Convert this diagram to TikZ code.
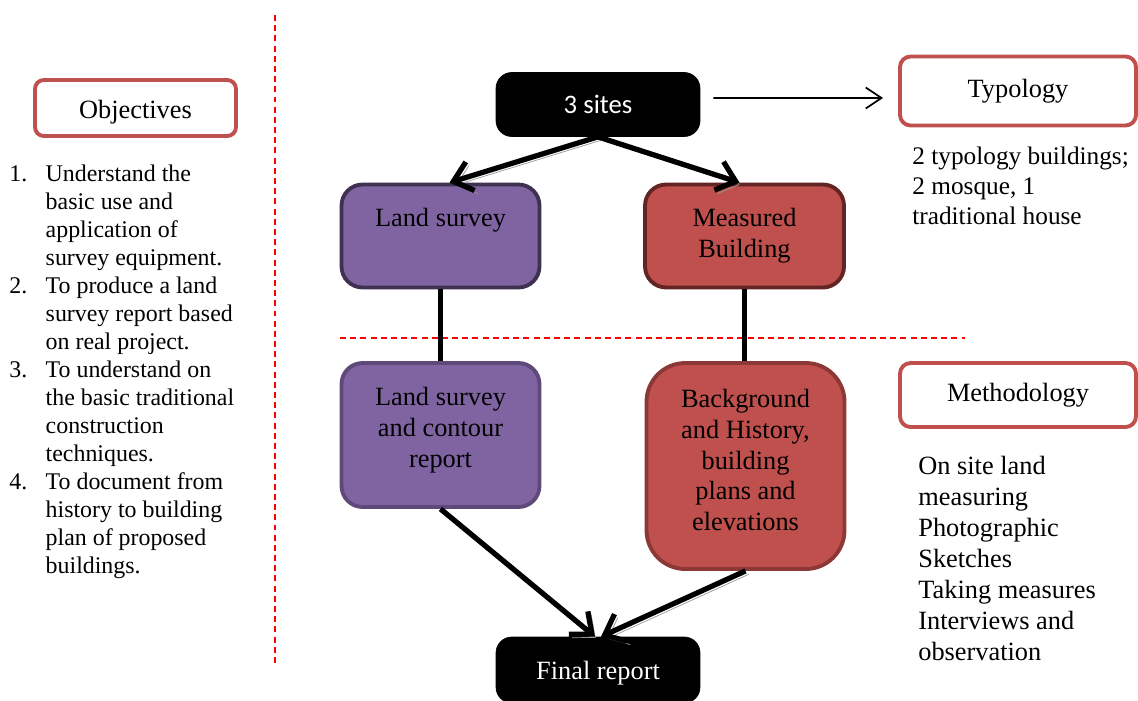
\documentclass[tikz,border=0pt]{standalone}
\usepackage{fontspec}
\setmainfont{Liberation Serif}
\newfontfamily\calibrifont{Carlito}
\usetikzlibrary{positioning,arrows.meta}
\definecolor{accred}{HTML}{C0504D}
\definecolor{accpurple}{HTML}{8064A2}
\definecolor{purpledark}{HTML}{3F3151}
\definecolor{purplemid}{HTML}{5F497A}
\definecolor{reddark}{HTML}{632523}
\definecolor{redmid}{HTML}{8C3836}

\begin{document}
\begin{tikzpicture}[
  x=0.02cm, y=-0.02cm,
  font=\fontsize{15}{17.6}\selectfont,
  box/.style={draw, line width=2.2pt, rounded corners=6pt, align=center, inner sep=2pt},
  head/.style={box, draw=accred, fill=white, minimum width=4.72cm, minimum height=1.38cm},
  blackbox/.style={box, draw=black, fill=black, text=white, line width=0.4pt,
                   minimum width=4.08cm, minimum height=1.28cm, rounded corners=9pt},
  survey/.style={box, fill=accpurple, minimum width=3.96cm, rounded corners=12pt},
  measure/.style={box, fill=accred, minimum width=3.98cm, rounded corners=12pt},
  plain/.style={inner sep=0pt, align=left, anchor=north west},
  arr/.style={line width=3pt, -{Straight Barb[length=10pt,width=17pt]},
              preaction={draw=black!40, transform canvas={xshift=1.9pt,yshift=-1.9pt}}},
  link/.style={line width=3.2pt},
  thinarr/.style={line width=1pt, -{Straight Barb[length=9pt,width=12pt]}},
  sep/.style={draw=red, line width=0.9pt, dash pattern=on 3.4pt off 2.4pt},
]
\useasboundingbox (0,0) rectangle (1138,700);
% Left column: objectives
\node[head, minimum width=4.02cm, minimum height=1.12cm, rounded corners=5pt,
      text height=15.5pt, text depth=3.3pt] (obj) at (135.5,108) {Objectives};
\node[plain, font=\fontsize{13.6}{15.9}\selectfont] (objlist) at (9,162) {%
  \begin{tabular}{@{}l@{\hspace{10.5pt}}l@{}}
  1. & Understand the\\
     & basic use and\\
     & application of\\
     & survey equipment.\\
  2. & To produce a land\\
     & survey report based\\
     & on real project.\\
  3. & To understand on\\
     & the basic traditional\\
     & construction\\
     & techniques.\\
  4. & To document from\\
     & history to building\\
     & plan of proposed\\
     & buildings.
  \end{tabular}};
\draw[sep] (275,15) -- (275,665);
% Top
\node[blackbox, font=\calibrifont\fontsize{15.2}{18}\selectfont] (sites) at (598,104.5) {3 sites};
\node[head] (typo) at (1018,91) {Typology};
\node[plain, font=\fontsize{14.4}{17}\selectfont] (typolist) at (912,147)
  {2 typology buildings;\\2 mosque, 1\\traditional house};
% Level 1
\node[survey, draw=purpledark, minimum height=2.06cm, text height=0.7em, text depth=17.5pt] (land) at (440.5,236) {Land survey};
\node[measure, draw=reddark, minimum height=2.06cm] (meas) at (744.5,236) {Measured\\Building};
\draw[sep] (340,338) -- (965,338);
% Level 2
\node[survey, draw=purplemid, minimum height=2.88cm, text depth=9pt] (contour) at (440.5,435) {Land survey\\and contour\\report};
\node[measure, draw=redmid, minimum height=4.12cm, minimum width=3.96cm, rounded corners=22pt,
      text depth=7pt] (hist) at (745.5,466)
  {Background\\and History,\\building\\plans and\\elevations};
\node[head, minimum height=1.28cm] (meth) at (1018,395) {Methodology};
\node[plain, font=\fontsize{15}{17.6}\selectfont] (methlist) at (918,456)
  {On site land\\measuring\\Photographic\\Sketches\\Taking measures\\Interviews and\\observation};
% Bottom
\node[blackbox, font=\fontsize{15}{18}\selectfont, minimum height=1.32cm,
      text height=14pt, text depth=3pt] (final) at (598,670) {Final report};
% Edges
\draw[thinarr] ([xshift=0.26cm,yshift=0.13cm]sites.east) -- ([xshift=-0.3cm,yshift=-0.14cm]typo.west);
\draw[arr] (sites.south) -- ([xshift=0.18cm]land.north);
\draw[arr] (sites.south) -- ([xshift=-0.1cm]meas.north);
\draw[link] (land.south) -- (contour.north);
\draw[link] (meas.south) -- (meas.south |- hist.north);
\draw[arr] (contour.south) -- ([xshift=-0.06cm]final.north);
\draw[arr] (hist.south) -- ([xshift=0.06cm]final.north);
\end{tikzpicture}
\end{document}
